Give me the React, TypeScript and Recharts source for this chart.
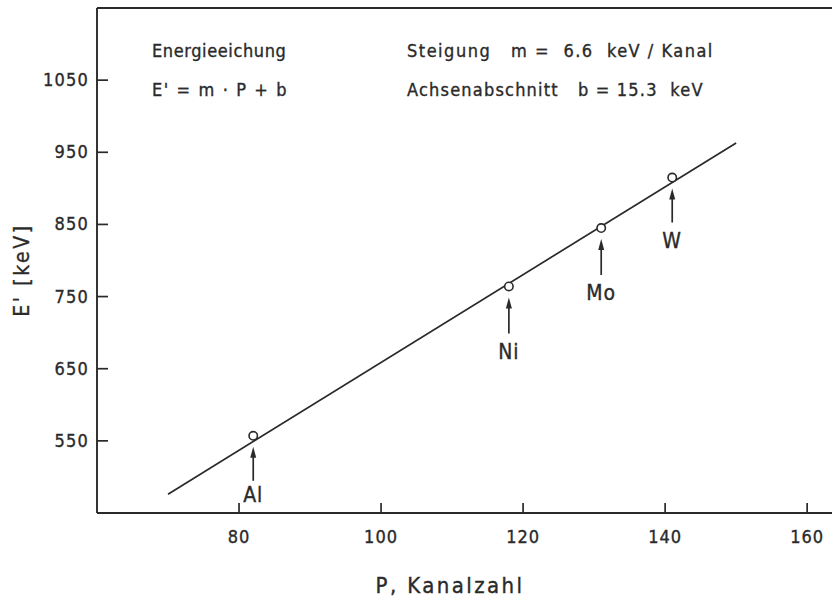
import React from "react";
import { ScatterChart, Scatter, XAxis, YAxis, ReferenceLine } from "recharts";

// Calibration standards: channel number P and energy E' (keV)
const elements = ["Al", "Ni", "Mo", "W"];
const channels = [82, 118, 131, 141];
const energies = [557, 764, 845, 915];

// Straight calibration line, endpoints (P, E')
const lineChannels = [70, 150];
const lineEnergies = [476, 963];

const xTicks = [80, 100, 120, 140, 160];
const yTicks = [550, 650, 750, 850, 950, 1050];

const points = elements.map((name, i) => ({ name, P: channels[i], E: energies[i] }));
const fitLine = lineChannels.map((P, i) => ({ P, E: lineEnergies[i] }));

const INK = "#2a2a2a";
const FONT = "'DejaVu Sans Condensed', 'DejaVu Sans', sans-serif";

// Label placement below each point (pixels): arrow end and text baseline
const labelDrop: Record<string, { shaft: number; text: number }> = {
  Al: { shaft: 45, text: 66 },
  Ni: { shaft: 47, text: 73 },
  Mo: { shaft: 47, text: 72 },
  W: { shaft: 45, text: 70 },
};

const ink = { fill: INK, stroke: INK, strokeWidth: 0.35 };

const YTick = (props: any) => {
  const { x, y, payload } = props;
  return (
    <g>
      <line x1={x} x2={x + 11} y1={y} y2={y} stroke={INK} strokeWidth={1.7} />
      <text x={x - 8} y={y + 6} textAnchor="end" fontFamily={FONT} fontSize={18} letterSpacing={1.2} {...ink}>
        {payload.value}
      </text>
    </g>
  );
};

const XTick = (props: any) => {
  const { x, y, payload } = props;
  return (
    <g>
      <line x1={x} x2={x} y1={y} y2={y - 10} stroke={INK} strokeWidth={1.7} />
      <text x={x} y={y + 30} textAnchor="middle" fontFamily={FONT} fontSize={18} letterSpacing={1} {...ink}>
        {payload.value}
      </text>
    </g>
  );
};

// Open circle with an upward arrow and the element symbol underneath
const MarkedPoint = (props: any) => {
  const { cx, cy, payload } = props;
  const drop = labelDrop[payload.name] ?? { shaft: 46, text: 71 };
  const tip = cy + 11;
  const head = tip + 11;
  return (
    <g>
      <circle cx={cx} cy={cy} r={4.2} fill="#fff" stroke={INK} strokeWidth={1.6} />
      <line x1={cx} x2={cx} y1={head - 1} y2={cy + drop.shaft} stroke={INK} strokeWidth={1.7} />
      <path d={`M${cx},${tip} L${cx - 3},${head} L${cx + 3},${head} Z`} fill={INK} />
      <text x={cx} y={cy + drop.text} textAnchor="middle" fontFamily={FONT} fontSize={21} letterSpacing={1} {...ink}>
        {payload.name}
      </text>
    </g>
  );
};

const textStyle: React.CSSProperties = { whiteSpace: "pre" };
const noteProps = { fontFamily: FONT, fontSize: 18, letterSpacing: 1.1, style: textStyle, ...ink };

export default function App() {
  return (
    <div style={{ width: 832, height: 600, background: "#fff", overflow: "hidden" }}>
      <style>{"html, body { margin: 0; padding: 0; overflow: hidden; background: #fff; }"}</style>
      <ScatterChart width={832} height={600} margin={{ top: 8, right: 0, bottom: 0, left: 0 }}>
        <XAxis
          type="number"
          dataKey="P"
          domain={[60, 163.5]}
          ticks={xTicks}
          allowDataOverflow
          tickSize={0}
          tickMargin={0}
          tick={<XTick />}
          axisLine={{ stroke: INK, strokeWidth: 1.9 }}
          height={87}
        />
        <YAxis
          type="number"
          dataKey="E"
          domain={[450, 1150]}
          ticks={yTicks}
          allowDataOverflow
          tickSize={0}
          tickMargin={0}
          tick={<YTick />}
          axisLine={{ stroke: INK, strokeWidth: 1.9 }}
          width={97}
        />
        <ReferenceLine y={1150} stroke={INK} strokeWidth={1.9} />
        <Scatter
          data={fitLine}
          line={{ stroke: INK, strokeWidth: 1.7 }}
          shape={() => null}
          isAnimationActive={false}
        />
        <Scatter data={points} shape={<MarkedPoint />} isAnimationActive={false} />

        <text x={152} y={57} {...noteProps} letterSpacing={0.6}>
          Energieeichung
        </text>
        <text x={152} y={96} {...noteProps} letterSpacing={1.6}>
          {"E' = m · P + b"}
        </text>
        <text x={407} y={57} {...noteProps} letterSpacing={1.5}>
          {"Steigung   m =  6.6  keV / Kanal"}
        </text>
        <text x={407} y={96} {...noteProps} letterSpacing={1.2}>
          {"Achsenabschnitt   b = 15.3  keV"}
        </text>

        <text
          x={29}
          y={270}
          transform="rotate(-90 29 270)"
          textAnchor="middle"
          fontFamily={FONT}
          fontSize={21}
          letterSpacing={2.6}
          style={textStyle}
          {...ink}
        >
          {"E' [keV]"}
        </text>
        <text
          x={450}
          y={593}
          textAnchor="middle"
          fontFamily={FONT}
          fontSize={22}
          letterSpacing={2.4}
          style={textStyle}
          {...ink}
        >
          P, Kanalzahl
        </text>
      </ScatterChart>
    </div>
  );
}
